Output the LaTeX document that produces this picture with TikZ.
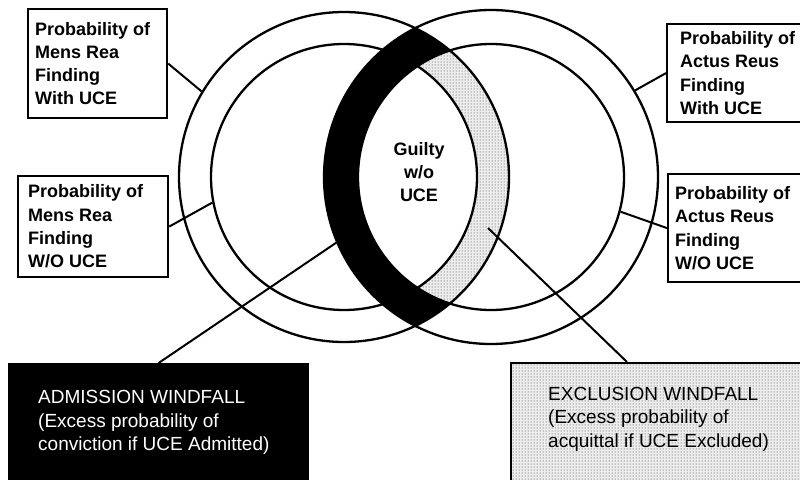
\documentclass[tikz,border=0pt]{standalone}
\usepackage{fontspec}
\setmainfont{Liberation Sans}
\usetikzlibrary{patterns}
\begin{document}
\begin{tikzpicture}[x=1pt,y=-1pt,
  ring/.style={circle, draw, line width=2.3pt, inner sep=0pt},
  lab/.style={draw, line width=2.2pt, anchor=north west, inner sep=0pt},
  labtext/.style={anchor=west, align=left, font=\fontsize{18}{23.3}\selectfont\bfseries, inner sep=0pt},
  wtext/.style={anchor=west, align=left, font=\fontsize{19}{23.5}\selectfont, inner sep=0pt},
  conn/.style={line width=2pt},
  dotfill/.style={preaction={fill=gray!14}, pattern=dots, pattern color=black!80}
]
\useasboundingbox (0,0) rectangle (800,479);
\fill[white] (0,0) rectangle (800,479);

\coordinate (cl) at (344,177);
\coordinate (cr) at (491,177);

% shaded regions
\begin{scope}[even odd rule]
  \clip (cl) circle[radius=165pt];
  \fill[black] (cr) circle[radius=167pt] (cr) circle[radius=133pt];
\end{scope}
\begin{scope}[even odd rule]
  \clip (cr) circle[radius=133pt];
  \path[dotfill] (cl) circle[radius=165pt] (cl) circle[radius=133pt];
\end{scope}

% circles
\node[ring, minimum size=330pt] (lo) at (cl) {};
\node[ring, minimum size=266pt] (li) at (cl) {};
\node[ring, minimum size=334pt] (ro) at (cr) {};
\node[ring, minimum size=266pt] (ri) at (cr) {};

\node[font=\fontsize{18}{23}\selectfont\bfseries, align=center, inner sep=0pt] (g) at (419,172) {Guilty\\w/o\\UCE};

% label boxes
\node[lab, minimum width=139pt, minimum height=109pt] (b1) at (27,8) {};
\node[labtext] (t1) at ([xshift=8pt]b1.west) {Probability of\\Mens Rea\\Finding\\With UCE};
\node[lab, minimum width=150pt, minimum height=101pt] (b2) at (17,175) {};
\node[labtext] (t2) at ([xshift=11pt]b2.west) {Probability of\\Mens Rea\\Finding\\W/O UCE};
\node[lab, minimum width=135pt, minimum height=98pt] (b3) at (666,23) {};
\node[labtext] (t3) at ([xshift=14pt]b3.west) {Probability of\\Actus Reus\\Finding\\With UCE};
\node[lab, minimum width=134pt, minimum height=108pt] (b4) at (667,173) {};
\node[labtext] (t4) at ([xshift=8pt]b4.west) {Probability of\\Actus Reus\\Finding\\W/O UCE};

% windfall boxes
\node[lab, fill=black, minimum width=299pt, minimum height=117pt] (adm) at (8,363) {};
\node[wtext, text=white] (admt) at ([xshift=30pt]adm.west) {ADMISSION WINDFALL\\(Excess probability of\\conviction if UCE Admitted)};
\node[lab, dotfill, minimum width=291pt, minimum height=118pt] (exc) at (510,362) {};
\node[wtext] (exct) at ([xshift=38pt,yshift=3pt]exc.west) {EXCLUSION WINDFALL\\(Excess probability of\\acquittal if UCE Excluded)};

% connectors
\coordinate (xe) at (488,228);
\draw[conn] (b1.east) -- (lo.149);
\draw[conn] (b2.east) -- (li.191);
\draw[conn] (b3.west) -- (ro.31);
\draw[conn] (b4.west) -- (ri.-15);
\draw[conn] (adm.north) -- (ro.203);
\draw[conn] ([xshift=117pt]exc.north west) -- (xe);
\end{tikzpicture}
\end{document}
